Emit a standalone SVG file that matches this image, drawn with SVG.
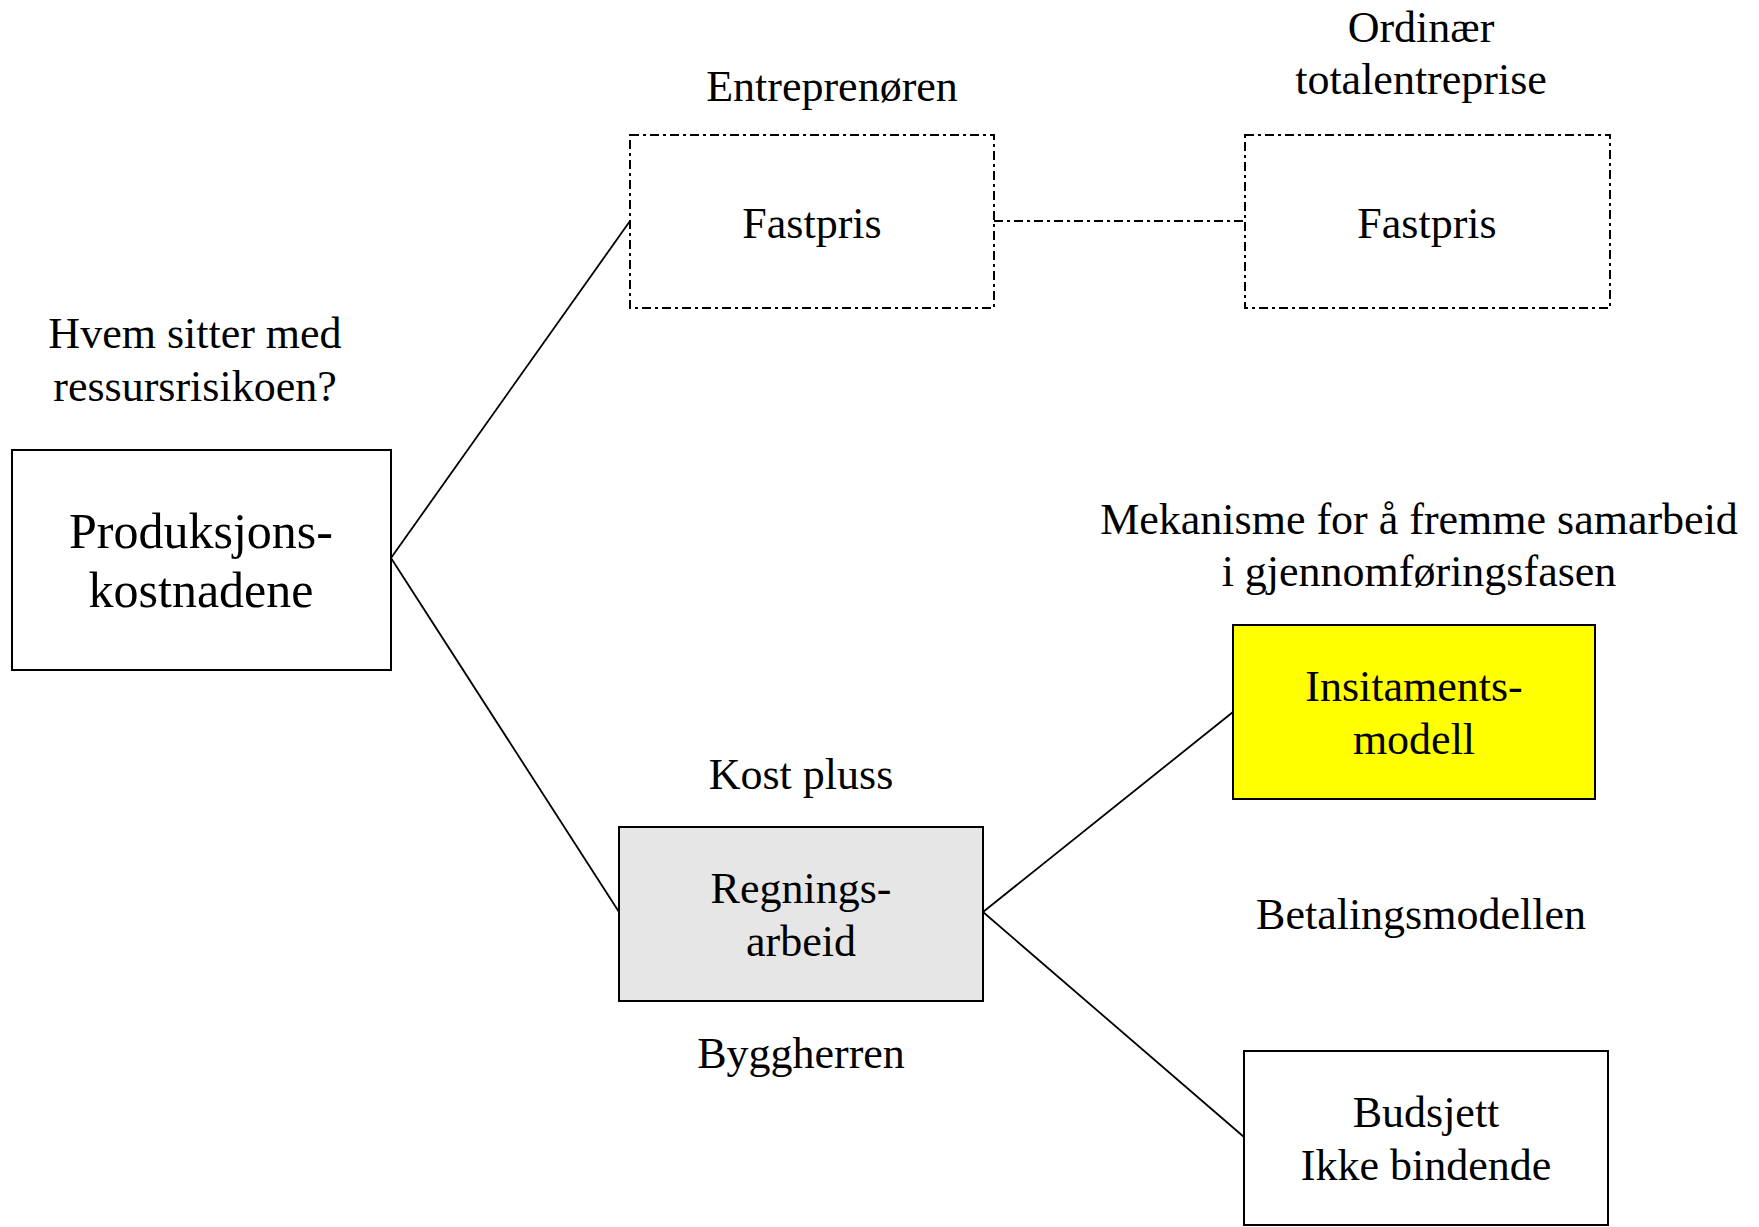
<svg xmlns="http://www.w3.org/2000/svg" width="1759" height="1227" viewBox="0 0 1759 1227">
<style>
text{font-family:"Liberation Serif","Times New Roman",serif;font-size:44px;fill:#000;text-anchor:middle}
.big{font-size:50px}
.box{stroke:#000;stroke-width:2;fill:#fff}
.dash{stroke:#000;stroke-width:2;fill:#fff;stroke-dasharray:9 4 3 4}
.ln{stroke:#000;stroke-width:1.8;fill:none}
</style>
<rect width="1759" height="1227" fill="#fff"/>
<g id="connectors">
<line class="ln" x1="391" y1="558" x2="630" y2="221"/>
<line class="ln" x1="391" y1="558" x2="619" y2="912"/>
<line class="ln" x1="983" y1="912" x2="1233" y2="712"/>
<line class="ln" x1="983" y1="912" x2="1244" y2="1137"/>
<line class="ln" x1="994" y1="221" x2="1245" y2="221" style="stroke-dasharray:9 4 3 4"/>
</g>
<g id="labels">
<text x="195" y="348">Hvem sitter med</text>
<text x="195" y="401">ressursrisikoen?</text>
<text x="832" y="101">Entreprenøren</text>
<text x="1421" y="42">Ordinær</text>
<text x="1421" y="94">totalentreprise</text>
<text x="1419" y="534">Mekanisme for å fremme samarbeid</text>
<text x="1419" y="586">i gjennomføringsfasen</text>
<text x="801" y="789">Kost pluss</text>
<text x="1421" y="929">Betalingsmodellen</text>
<text x="801" y="1068">Byggherren</text>
</g>
<g id="produksjon">
<rect class="box" x="12" y="450" width="379" height="220"/>
<text class="big" x="201" y="548">Produksjons-</text>
<text class="big" x="201" y="607">kostnadene</text>
</g>
<g id="fastpris1">
<rect class="dash" x="630" y="135" width="364" height="173"/>
<text x="812" y="238">Fastpris</text>
</g>
<g id="fastpris2">
<rect class="dash" x="1245" y="135" width="365" height="173"/>
<text x="1427" y="238">Fastpris</text>
</g>
<g id="insitament">
<rect class="box" x="1233" y="625" width="362" height="174" fill="#ffff00" style="fill:#ffff00"/>
<text x="1414" y="701">Insitaments-</text>
<text x="1414" y="754">modell</text>
</g>
<g id="regning">
<rect class="box" x="619" y="827" width="364" height="174" style="fill:#e6e6e6"/>
<text x="801" y="903">Regnings-</text>
<text x="801" y="956">arbeid</text>
</g>
<g id="budsjett">
<rect class="box" x="1244" y="1051" width="364" height="174"/>
<text x="1426" y="1127">Budsjett</text>
<text x="1426" y="1180">Ikke bindende</text>
</g>
</svg>
